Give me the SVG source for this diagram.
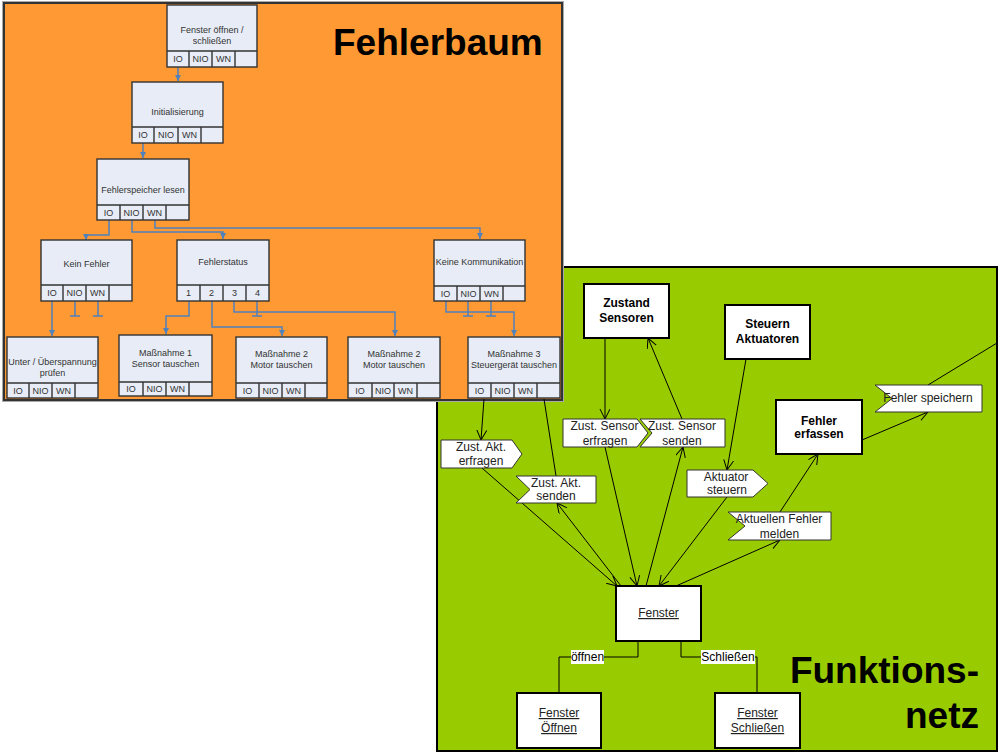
<svg xmlns="http://www.w3.org/2000/svg" width="998" height="753" viewBox="0 0 998 753">
<defs>
<style>
.tn rect{fill:#E7ECF6;stroke:#333;stroke-width:1.4}
.tn path{fill:none;stroke:#333;stroke-width:1.4}
.tn text{font-family:"Liberation Sans",Arial,sans-serif;font-size:9px;fill:#333;text-anchor:middle}
.bc path{fill:none;stroke:#4F81BD;stroke-width:1.5}
.gl path{fill:none;stroke:#000;stroke-width:1}
.flag polygon{fill:#fff;stroke:#333;stroke-width:1}
.flag text{font-family:"Liberation Sans",Arial,sans-serif;font-size:12px;fill:#222;text-anchor:middle}
.box rect{fill:#fff;stroke:#000;stroke-width:2}
.box text{font-family:"Liberation Sans",Arial,sans-serif;font-size:12px;fill:#000;text-anchor:middle}
.box text.b{font-weight:bold}
.box text.u{text-decoration:underline;fill:#222}
.title{font-family:"Liberation Sans",Arial,sans-serif;font-size:37px;font-weight:bold;fill:#000}
.lbl{font-family:"Liberation Sans",Arial,sans-serif;font-size:12px;fill:#000;text-anchor:middle}
</style>
<marker id="ba" markerWidth="8" markerHeight="8" refX="6" refY="3" orient="auto" markerUnits="userSpaceOnUse"><path d="M0,0L6,3L0,6z" fill="#4F81BD"/></marker>
<marker id="oa" markerWidth="12" markerHeight="12" refX="10" refY="5" orient="auto" markerUnits="userSpaceOnUse"><path d="M0,0L10,5L0,10" fill="none" stroke="#000" stroke-width="1"/></marker>
</defs>
<rect width="998" height="753" fill="#fff"/>

<!-- Funktionsnetz panel -->
<g id="panel-funktionsnetz">
<rect x="437" y="267" width="560" height="484" fill="#99CC00" stroke="#000" stroke-width="2"/>
<text class="title" x="979" y="683" text-anchor="end">Funktions-</text>
<text class="title" x="979" y="728" text-anchor="end">netz</text>
</g>

<!-- Fehlerbaum panel -->
<g id="panel-fehlerbaum">
<rect x="2.5" y="1.5" width="561" height="400" fill="none" stroke="#aaa" stroke-width="1"/>
<rect x="4" y="3" width="558" height="397" fill="#FF9933" stroke="#333" stroke-width="2"/>
<text class="title" x="333" y="55">Fehlerbaum</text>
</g>

<!-- tree connectors -->
<g id="tree-connectors" class="bc">
<path d="M178,67V81" marker-end="url(#ba)"/>
<path d="M143,143V158" marker-end="url(#ba)"/>
<path d="M109,220V235H86V240" marker-end="url(#ba)"/>
<path d="M132,220V232H223V239" marker-end="url(#ba)"/>
<path d="M155,220V228H480V239" marker-end="url(#ba)"/>
<path d="M52,301V336" marker-end="url(#ba)"/>
<path d="M75,301V316M70,316H80"/>
<path d="M98,301V316M93,316H103"/>
<path d="M189,301V316H166V334" marker-end="url(#ba)"/>
<path d="M212,301V327H282V336" marker-end="url(#ba)"/>
<path d="M234,301V312H395V336" marker-end="url(#ba)"/>
<path d="M257,301V316M252,316H262"/>
<path d="M446,301V312H514V336" marker-end="url(#ba)"/>
<path d="M468,301V316M463,316H473"/>
<path d="M491,301V316M486,316H496"/>
</g>

<!-- tree nodes -->
<g id="t1" class="tn"><rect x="167" y="5" width="90" height="62"/><path d="M167,51H257M189,51V67M212,51V67M235,51V67"/><text x="212" y="33">Fenster öffnen /</text><text x="212" y="44">schließen</text><text x="178" y="62">IO</text><text x="200.5" y="62">NIO</text><text x="223.5" y="62">WN</text></g>
<g id="t2" class="tn"><rect x="132" y="82" width="91" height="61"/><path d="M132,127H223M154,127V143M178,127V143M201,127V143"/><text x="177.5" y="115">Initialisierung</text><text x="143" y="138">IO</text><text x="166" y="138">NIO</text><text x="189.5" y="138">WN</text></g>
<g id="t3" class="tn"><rect x="97" y="159" width="92" height="61"/><path d="M97,205H189M120,205V220M143,205V220M166,205V220"/><text x="143" y="193">Fehlerspeicher lesen</text><text x="108.5" y="215.5">IO</text><text x="131.5" y="215.5">NIO</text><text x="154.5" y="215.5">WN</text></g>
<g id="t4" class="tn"><rect x="41" y="240" width="91" height="61"/><path d="M41,285H132M63,285V301M86,285V301M109,285V301"/><text x="86.5" y="267">Kein Fehler</text><text x="52" y="296">IO</text><text x="74.5" y="296">NIO</text><text x="97.5" y="296">WN</text></g>
<g id="t5" class="tn"><rect x="177" y="240" width="92" height="61"/><path d="M177,285H269M200,285V301M223,285V301M246,285V301"/><text x="223" y="265">Fehlerstatus</text><text x="188.5" y="296">1</text><text x="211.5" y="296">2</text><text x="234.5" y="296">3</text><text x="257.5" y="296">4</text></g>
<g id="t6" class="tn"><rect x="434" y="240" width="91" height="61"/><path d="M434,286H525M457,286V301M480,286V301M503,286V301"/><text x="479.5" y="265">Keine Kommunikation</text><text x="445.5" y="296.5">IO</text><text x="468.5" y="296.5">NIO</text><text x="491.5" y="296.5">WN</text></g>
<g id="t7" class="tn"><rect x="7" y="337" width="91" height="61"/><path d="M7,383H98M29,383V398M52,383V398M75,383V398"/><text x="52.5" y="365">Unter / Überspannung</text><text x="52.5" y="376">prüfen</text><text x="18" y="393.5">IO</text><text x="40.5" y="393.5">NIO</text><text x="63.5" y="393.5">WN</text></g>
<g id="t8" class="tn"><rect x="119" y="335" width="93" height="61"/><path d="M119,382H212M143,382V396M166,382V396M189,382V396"/><text x="165.5" y="356">Maßnahme 1</text><text x="165.5" y="367">Sensor tauschen</text><text x="131" y="392">IO</text><text x="154.5" y="392">NIO</text><text x="177.5" y="392">WN</text></g>
<g id="t9" class="tn"><rect x="236" y="337" width="91" height="61"/><path d="M236,383H327M259,383V398M282,383V398M305,383V398"/><text x="281.5" y="357">Maßnahme 2</text><text x="281.5" y="368">Motor tauschen</text><text x="247.5" y="393.5">IO</text><text x="270.5" y="393.5">NIO</text><text x="293.5" y="393.5">WN</text></g>
<g id="t10" class="tn"><rect x="348" y="337" width="92" height="61"/><path d="M348,383H440M372,383V398M394,383V398M417,383V398"/><text x="394" y="357">Maßnahme 2</text><text x="394" y="368">Motor tauschen</text><text x="360" y="393.5">IO</text><text x="383" y="393.5">NIO</text><text x="405.5" y="393.5">WN</text></g>
<g id="t11" class="tn"><rect x="468" y="337" width="92" height="61"/><path d="M468,383H560M491,383V398M514,383V398M537,383V398"/><text x="514" y="357">Maßnahme 3</text><text x="514" y="368">Steuergerät tauschen</text><text x="479.5" y="393.5">IO</text><text x="502.5" y="393.5">NIO</text><text x="525.5" y="393.5">WN</text></g>

<!-- network connectors -->
<g id="net-connectors" class="gl">
<path d="M484,399L481,440" marker-end="url(#oa)"/>
<path d="M544,399L556,476"/>
<path d="M482,468L617,586" marker-end="url(#oa)"/>
<path d="M621,586L557,503" marker-end="url(#oa)"/>
<path d="M605,447L637,586" marker-end="url(#oa)"/>
<path d="M646,586L683,447" marker-end="url(#oa)"/>
<path d="M727,497L659,586" marker-end="url(#oa)"/>
<path d="M676,586L780,540" marker-end="url(#oa)"/>
<path d="M605,338L605,419" marker-end="url(#oa)"/>
<path d="M682,419L648,338" marker-end="url(#oa)"/>
<path d="M746,359L727,470" marker-end="url(#oa)"/>
<path d="M780,512L818,454" marker-end="url(#oa)"/>
<path d="M862,440L928,412" marker-end="url(#oa)"/>
<path d="M928,385L997,343"/>
<path d="M638,641V657H559V693"/>
<path d="M681,641V657H757V693"/>
</g>
<g id="edge-labels">
<rect x="571" y="650" width="33" height="14" fill="#fff"/>
<text class="lbl" x="587.5" y="661">öffnen</text>
<rect x="701" y="650" width="54" height="14" fill="#fff"/>
<text class="lbl" x="728" y="661">Schließen</text>
</g>

<!-- flags -->
<g id="f-akt-erfragen" class="flag"><polygon points="441,440 512,440 522,454 512,468 441,468"/><text x="481" y="451">Zust. Akt.</text><text x="481" y="465">erfragen</text></g>
<g id="f-akt-senden" class="flag"><polygon points="516,476 596,476 596,503 516,503 530,489.5"/><text x="556" y="487">Zust. Akt.</text><text x="556" y="500">senden</text></g>
<g id="f-sensor-senden" class="flag"><polygon points="640,419 725,419 725,447 640,447 652,433"/><text x="682" y="430">Zust. Sensor</text><text x="682" y="445">senden</text></g>
<g id="f-sensor-erfragen" class="flag"><polygon points="563,419 637,419 648,433 637,447 563,447"/><text x="604.5" y="430">Zust. Sensor</text><text x="605" y="445">erfragen</text></g>
<g id="f-aktuator-steuern" class="flag"><polygon points="687,470 753,470 768,483.5 753,497 687,497"/><text x="726" y="481">Aktuator</text><text x="727" y="494">steuern</text></g>
<g id="f-fehler-melden" class="flag"><polygon points="728,512 831,512 831,540 728,540 745,526"/><text x="779" y="523">Aktuellen Fehler</text><text x="779.5" y="538">melden</text></g>
<g id="f-fehler-speichern" class="flag"><polygon points="875,385 982,385 982,412 875,412 892,398.5"/><text x="928" y="402">Fehler speichern</text></g>

<!-- boxes -->
<g id="b-zustand-sensoren" class="box"><rect x="584" y="284" width="85" height="54"/><text class="b" x="626.5" y="307">Zustand</text><text class="b" x="626.5" y="322">Sensoren</text></g>
<g id="b-steuern-aktuatoren" class="box"><rect x="725" y="305" width="85" height="54"/><text class="b" x="767.5" y="328">Steuern</text><text class="b" x="767.5" y="343">Aktuatoren</text></g>
<g id="b-fehler-erfassen" class="box"><rect x="776" y="400" width="86" height="54"/><text class="b" x="819" y="425">Fehler</text><text class="b" x="819" y="438">erfassen</text></g>
<g id="b-fenster" class="box"><rect x="616" y="586" width="85" height="55"/><text class="u" x="658.5" y="617">Fenster</text></g>
<g id="b-fenster-oeffnen" class="box"><rect x="517" y="693" width="84" height="55"/><text class="u" x="559" y="717">Fenster</text><text class="u" x="559" y="732">Öffnen</text></g>
<g id="b-fenster-schliessen" class="box"><rect x="715" y="693" width="85" height="55"/><text class="u" x="757.5" y="717">Fenster</text><text class="u" x="757.5" y="732">Schließen</text></g>
</svg>
